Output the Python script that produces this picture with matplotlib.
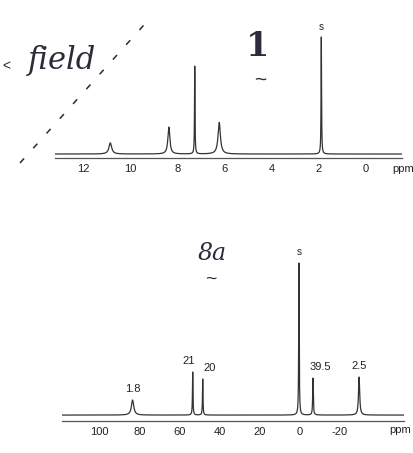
import numpy as np
import matplotlib.pyplot as plt
from matplotlib.lines import Line2D

# ---------- Daten ----------
# oben: 1H-Spektrum von 1
h_shift = [10.85, 8.36, 7.26, 6.22, 1.88]
h_height = [9.5, 23, 75, 27, 100]
h_width = [0.07, 0.05, 0.012, 0.06, 0.012]
h_ticks = [12, 10, 8, 6, 4, 2, 0]

# unten: Spektrum von 8a
c_shift = [83.5, 53.5, 48.5, 0.5, -6.5, -29.5]
c_height = [9.9, 28.3, 23.7, 100, 24.3, 25]
c_width = [0.7, 0.15, 0.15, 0.15, 0.18, 0.35]
c_labels = ['1.8', '21', '20', 's', '39.5', '2.5']
c_ticks = [100, 80, 60, 40, 20, 0, -20]

ink = '#333333'
pen = '#2b2b3a'
plt.rcParams['font.family'] = ['Liberation Sans', 'DejaVu Sans']
plt.rcParams['axes.unicode_minus'] = False


def spectrum(x, shifts, heights, widths):
    y = np.zeros_like(x)
    for s, h, w in zip(shifts, heights, widths):
        y += h * w**2 / ((x - s)**2 + w**2)
    return y


def style(ax, ticks):
    for side in ['top', 'left', 'right']:
        ax.spines[side].set_visible(False)
    ax.spines['bottom'].set_color('#555555')
    ax.spines['bottom'].set_linewidth(0.9)
    ax.spines['bottom'].set_linestyle((0, (4, 1)))
    ax.set_yticks([])
    ax.set_xticks(ticks)
    ax.tick_params(axis='x', length=0, pad=4, labelsize=8, colors='#222222')
    ax.patch.set_alpha(0)


fig = plt.figure(figsize=(4.13, 4.53), dpi=100)
W, H = 413, 453

# ---------- oben ----------
ax1 = fig.add_axes([55 / W, (H - 158) / H, 347 / W, 138 / H])
x1 = np.linspace(13.2, -1.55, 30000)
ax1.plot(x1, spectrum(x1, h_shift, h_height, h_width), color=ink, lw=0.9)
ax1.set_xlim(13.2, -1.55)
ax1.set_ylim(-3.4, 114.5)
style(ax1, h_ticks)
ax1.text(h_shift[-1], h_height[-1] + 4, 's', ha='center', va='bottom', fontsize=7, color='#222222')
fig.text(392 / W, (H - 169) / H, 'ppm', fontsize=8, va='center', ha='left', color='#222222')

# ---------- unten ----------
ax2 = fig.add_axes([62 / W, (H - 421) / H, 342 / W, 166 / H])
x2 = np.linspace(118.7, -51.9, 30000)
ax2.plot(x2, spectrum(x2, c_shift, c_height, c_width), color=ink, lw=0.9)
ax2.set_xlim(118.7, -51.9)
ax2.set_ylim(-3.9, 105.3)
style(ax2, c_ticks)
for s, h, lab in zip(c_shift, c_height, c_labels):
    dx = 0
    if lab == '21':
        dx = 2
    if lab == '20':
        dx = -3.5
    if lab == '39.5':
        dx = -3.5
    ax2.text(s + dx, h + 4, lab, ha='center', va='bottom',
             fontsize=7 if lab == 's' else 8, color='#222222')
fig.text(389 / W, (H - 430) / H, 'ppm', fontsize=8, va='center', ha='left', color='#222222')

# ---------- Handschrift ----------
fig.text(28 / W, (H - 60) / H, 'field', fontsize=22, family='DejaVu Serif',
         style='italic', color=pen, va='center', ha='left')
fig.text(258 / W, (H - 46) / H, '1', fontsize=24, family='DejaVu Serif',
         color=pen, va='center', ha='center', weight='bold')
fig.text(260 / W, (H - 80) / H, '~', fontsize=15, color=pen, va='center', ha='center')
fig.text(212 / W, (H - 253) / H, '8a', fontsize=17, family='DejaVu Serif',
         style='italic', color=pen, va='center', ha='center')
fig.text(211 / W, (H - 279) / H, '~', fontsize=14, color=pen, va='center', ha='center')
fig.text(2 / W, (H - 66) / H, '<', fontsize=10, color=pen, va='center', ha='left')

fig.add_artist(Line2D([20 / W, 152 / W], [(H - 163) / H, (H - 16) / H],
                      transform=fig.transFigure, color=pen, lw=1.1,
                      linestyle=(0, (4, 9))))

fig.savefig('out.png', dpi=100)
